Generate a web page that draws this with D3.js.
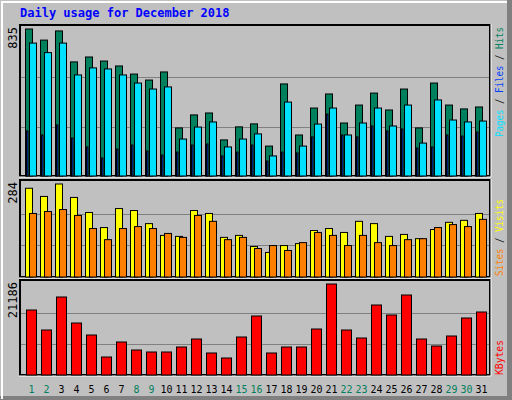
<!DOCTYPE html>
<html><head><meta charset="utf-8">
<script src="https://cdn.jsdelivr.net/npm/d3@7"></script>
<style>body{margin:0;background:#fff}</style>
</head><body><svg id="c" width="512" height="400"></svg>
<script>
const days = d3.range(1,32);
const weekend = [1,2,8,9,15,16,22,23,29,30];
const hits = [835,772,824,648,676,653,625,579,545,591,273,347,358,205,279,296,170,523,233,386,466,301,403,471,375,494,273,528,403,381,392];
const files = [755,701,755,574,614,608,574,528,494,506,210,278,307,165,210,239,114,420,170,295,386,233,301,386,284,403,187,432,318,307,312];
const pages = [256,233,290,216,165,102,153,176,142,119,136,176,182,114,136,176,85,136,131,222,352,233,222,284,256,267,159,165,233,227,250];
const visits = [271,246,284,243,197,151,209,203,163,127,124,203,194,121,127,93,75,96,102,142,148,136,170,163,124,130,117,145,167,173,194];
const sites = [194,200,206,188,148,114,148,154,148,133,121,188,170,114,121,87,96,81,105,136,127,96,127,105,96,114,117,151,160,154,176];
const kbytes = [15132,10476,18158,12106,9312,4190,7682,5820,5354,5354,6518,8381,5122,3958,8846,13735,5122,6518,6518,10709,21186,10476,8614,16296,13968,18624,8381,6751,9079,13270,14666];

const svg = d3.select("#c");
const F = "DejaVu Sans Mono, monospace";
svg.append("rect").attr("x",0).attr("y",0).attr("width",512).attr("height",400).attr("fill","#c0c0c0");
svg.append("rect").attr("x",507).attr("y",0).attr("width",5).attr("height",400).attr("fill","#808080");
svg.append("rect").attr("x",0).attr("y",396).attr("width",512).attr("height",4).attr("fill","#808080");
svg.append("rect").attr("x",1).attr("y",1).attr("width",2).attr("height",398).attr("fill","#fff");
svg.append("rect").attr("x",1).attr("y",1).attr("width",506).attr("height",2).attr("fill","#fff");
svg.append("text").attr("x",20).attr("y",17).attr("font-family",F).attr("font-weight","bold").attr("font-size",12).attr("fill","#0000ff").text("Daily usage for December 2018");

const x = d3.scaleBand().domain(days).range([20,485]).paddingInner(0);
const L=20,R=490;
function panel(y0,y1,yTop,max,label){
  svg.append("rect").attr("x",L).attr("y",y0).attr("width",R-L).attr("height",y1-y0).attr("fill","#c0c0c0").attr("stroke","#000").attr("stroke-width",2);
  svg.append("path").attr("d",`M${R+1},${y0-1}V${y1+1}H${L-1}`).attr("stroke","#fff").attr("fill","none").attr("stroke-width",1);
  const y = d3.scaleLinear().domain([0,max]).range([y1,yTop]);
  const h=y1-y0;
  [1/3,2/3].forEach(f=>svg.append("line").attr("x1",L+1).attr("x2",R-1).attr("y1",Math.round(y1-h*f*0.98)+0.5).attr("y2",Math.round(y1-h*f*0.98)+0.5).attr("stroke","#808080"));
  svg.append("text").attr("transform",`translate(17,${y0+2}) rotate(-90)`).attr("text-anchor","end").attr("font-family",F).attr("font-size",12).attr("fill","#000").text(label);
  return y;
}
function bars(y,data,dx,w,fill,base){
  svg.append("g").selectAll("rect").data(data).join("rect")
    .attr("x",(d,i)=>x(days[i])+dx).attr("y",d=>y(d)).attr("width",w).attr("height",d=>base-y(d))
    .attr("fill",fill).attr("stroke","#000").attr("stroke-width",1);
}
const y1 = panel(25,176,29,835,"835");
bars(y1,hits,5.5,7,"#00805c",176);
bars(y1,files,9.5,7,"#00e0ff",176);
bars(y1,pages,6.5,1.5,"#0040ff",176);
const y2 = panel(180,277,184,284,"284");
bars(y2,visits,5.5,7,"#ffff00",277);
bars(y2,sites,9.5,7,"#ff8000",277);
const y3 = panel(280,375,284,21186,"21186");
bars(y3,kbytes,6.5,10,"#ff0000",375);

svg.append("g").selectAll("text").data(days).join("text")
  .attr("x",d=>x(d)+11.5).attr("y",393).attr("text-anchor","middle")
  .attr("font-family",F).attr("font-size",11)
  .attr("textLength",d=>d>9?12:6).attr("lengthAdjust","spacingAndGlyphs")
  .attr("fill",d=>weekend.includes(d)?"#00805c":"#000").text(d=>d);

function sideLabelUp(ybottom,len,parts){
  const t=svg.append("text").attr("transform",`translate(503,${ybottom}) rotate(-90)`).attr("font-family",F).attr("font-size",11)
    .attr("textLength",len).attr("lengthAdjust","spacingAndGlyphs");
  parts.forEach(p=>t.append("tspan").attr("fill",p[1]).text(p[0]));
}
sideLabelUp(137,110,[["Pages","#00e0ff"],[" / ","#000"],["Files","#0040ff"],[" / ","#000"],["Hits","#00805c"]]);
sideLabelUp(276,77,[["Sites","#ff8000"],[" / ","#000"],["Visits","#ffff00"]]);
sideLabelUp(375,35,[["KBytes","#ff0000"]]);
</script></body></html>
